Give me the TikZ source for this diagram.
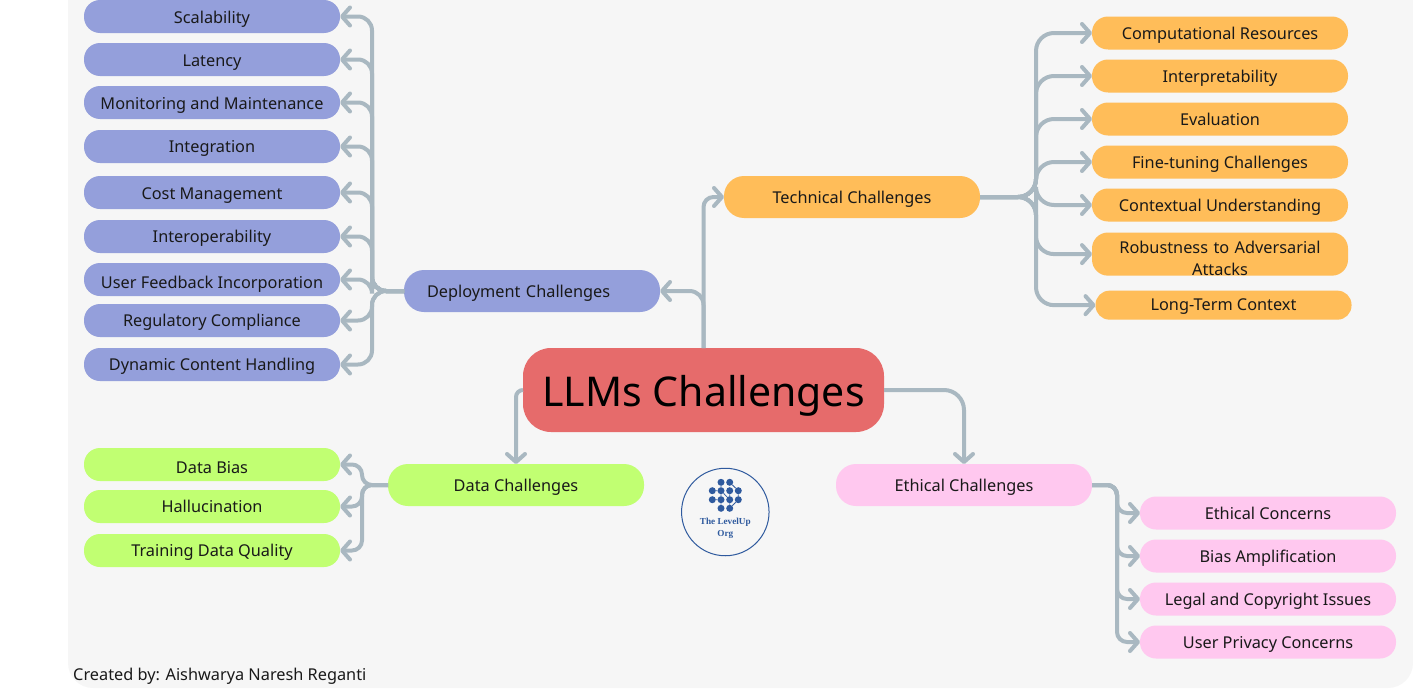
\documentclass[tikz,border=0pt]{standalone}
\usepackage{fontspec}
\setmainfont{Noto Sans}
\newfontfamily\logofont{Liberation Serif}
\usetikzlibrary{positioning,arrows.meta,calc}
\definecolor{panelgray}{HTML}{F6F6F6}
\definecolor{linkgray}{HTML}{A9B8C1}
\definecolor{rootred}{HTML}{E66B6B}
\definecolor{deplblue}{HTML}{949FDB}
\definecolor{techorange}{HTML}{FFBD59}
\definecolor{dataGreen}{HTML}{C1FF72}
\definecolor{ethiPink}{HTML}{FFC8EF}
\definecolor{logoblue}{HTML}{2F5A9E}
\def\LeafWidth{256pt}
\def\LeafHeight{33pt}
\def\TopicHeight{42pt}
\tikzset{
	leaf/.style={rounded corners=16pt,minimum width=\LeafWidth,minimum height=\LeafHeight,inner sep=0pt,outer sep=0pt,text height=14.5pt,text depth=2pt,text=black!90,align=center,font=\fontsize{16.3}{22}\selectfont},
	topic/.style={leaf,rounded corners=20pt,minimum height=\TopicHeight},
	link/.style={draw=linkgray,line width=4pt,rounded corners=14pt,-{Straight Barb[length=8pt,width=18pt,round]}},
	logodot/.style={circle,fill=logoblue,minimum size=7pt,inner sep=0pt},
}
\begin{document}
\begin{tikzpicture}[x=1pt,y=-1pt]
	\useasboundingbox (0,0) rectangle (1413,688);
	\fill[panelgray,rounded corners=25pt] (68,-30) rectangle (1413,688);
	% root and the four topics
	\node[fill=rootred,rounded corners=28pt,minimum width=361pt,minimum height=84pt,inner sep=0pt,outer sep=0pt,text height=33pt,text depth=0pt,font=\fontsize{41}{50}\selectfont] (root) at (703.5,390) {LLMs Challenges};
	\node[topic,fill=deplblue,text width=210pt,inner xsep=23pt,align=left] (depl) at (532,291) {Deployment Challenges};
	\node[topic,fill=techorange] (tech) at (852,197) {Technical Challenges};
	\node[topic,fill=dataGreen] (data) at (516,485) {Data Challenges};
	\node[topic,fill=ethiPink] (ethi) at (964,485) {Ethical Challenges};
	% 
	\node[leaf,fill=deplblue,text height=16.5pt] (scal) at (212,16.5) {Scalability};
	\node[leaf,fill=deplblue,below=10pt of scal,text height=16.5pt] (late) {Latency};
	\node[leaf,fill=deplblue,below=10pt of late,text height=16.5pt] (moni) {Monitoring and Maintenance};
	\node[leaf,fill=deplblue,below=11pt of moni] (inte) {Integration};
	\node[leaf,fill=deplblue,below=13pt of inte,text height=16.5pt] (cost) {Cost Management};
	\node[leaf,fill=deplblue,below=11pt of cost] (oper) {Interoperability};
	\node[leaf,fill=deplblue,below=10pt of oper,text height=20.5pt] (user) {User Feedback Incorporation};
	\node[leaf,fill=deplblue,below=8pt of user] (regu) {Regulatory Compliance};
	\node[leaf,fill=deplblue,below=11pt of regu] (dyna) {Dynamic Content Handling};
	% 
	\node[leaf,fill=techorange] (comp) at (1220,33) {Computational Resources};
	\node[leaf,fill=techorange,below=10pt of comp] (intp) {Interpretability};
	\node[leaf,fill=techorange,below=10pt of intp] (eval) {Evaluation};
	\node[leaf,fill=techorange,below=10pt of eval] (fine) {Fine-tuning Challenges};
	\node[leaf,fill=techorange,below=10pt of fine] (cont) {Contextual Understanding};
	\node[leaf,fill=techorange,below=11pt of cont,minimum height=43pt,text width=\LeafWidth,text height=21pt,text depth=] (robu) {Robustness to Adversarial\\Attacks};
	\node[leaf,fill=techorange,below=15pt of robu,xshift=3.5pt,minimum height=29pt,rounded corners=14pt,text height=13.5pt,text depth=2pt] (long) {Long-Term Context};
	% 
	\node[leaf,fill=dataGreen,text height=20.5pt] (bias) at (212,464.5) {Data Bias};
	\node[leaf,fill=dataGreen,below=9pt of bias] (hall) {Hallucination};
	\node[leaf,fill=dataGreen,below=11pt of hall] (qual) {Training Data Quality};
	% 
	\node[leaf,fill=ethiPink] (conc) at (1268,513) {Ethical Concerns};
	\node[leaf,fill=ethiPink,below=10pt of conc] (ampl) {Bias Amplification};
	\node[leaf,fill=ethiPink,below=10pt of ampl] (lega) {Legal and Copyright Issues};
	\node[leaf,fill=ethiPink,below=10pt of lega] (priv) {User Privacy Concerns};
	% 
	\coordinate (deplbus) at (372,291);
	\coordinate (techbus) at (1036,197);
	\coordinate (databus) at (362,485);
	\coordinate (ethibus) at (1117,485);
	% 
	\draw[link] (root.north) |- (depl.east);
	\draw[link,rounded corners=10pt] (root.north) |- (tech.west);
	\draw[link,rounded corners=7pt] (root.west) -| (data.north);
	\draw[link,rounded corners=20pt] (root.east) -| (ethi.north);
	\foreach \n in {scal,late,moni,inte,cost,oper,user,regu,dyna}
		\draw[link] (depl.west) -- (deplbus) |- (\n.east);
	\foreach \n in {comp,intp,eval,fine,cont,robu,long}
		\draw[link,rounded corners=18pt] (tech.east) -- (techbus) |- (\n.west);
	\foreach \n in {bias,hall,qual}
		\draw[link,rounded corners=10pt] (data.west) -- (databus) |- (\n.east);
	\foreach \n in {conc,ampl,lega,priv}
		\draw[link,rounded corners=10pt] (ethi.east) -- (ethibus) |- (\n.west);
	% logo
	\node[circle,draw=logoblue,line width=1pt,minimum size=87.5pt,inner sep=0pt] (logo) at (725.3,512) {};
	\foreach \n/\x/\y in {a/721/482.3,b/729.7/482.3,c/712.3/490.7,d/721/490.7,e/729.7/490.7,f/738.3/490.7,g/712.3/499.7,h/721/499.7,i/729.7/499.7,j/738.3/499.7,k/721/508.3,l/729.7/508.3}
		\node[logodot] (\n) at (\x,\y) {};
	\draw[logoblue,line width=.8pt] (a) -- (d) -- (c) (b) -- (f) -- (j) -- (l) -- (i) -- (d) -- (h) -- (k) (g) -- (h) (e) -- (i);
	\node[text=logoblue,align=center,font=\logofont\bfseries\fontsize{9.2}{12}\selectfont] (logotext) at (725.3,528) {The LevelUp\\Org};
	\node[anchor=base west,inner sep=0pt,text=black!90,font=\fontsize{16.3}{20}\selectfont] (credit) at (73,680) {Created by: Aishwarya Naresh Reganti};
\end{tikzpicture}
\end{document}
